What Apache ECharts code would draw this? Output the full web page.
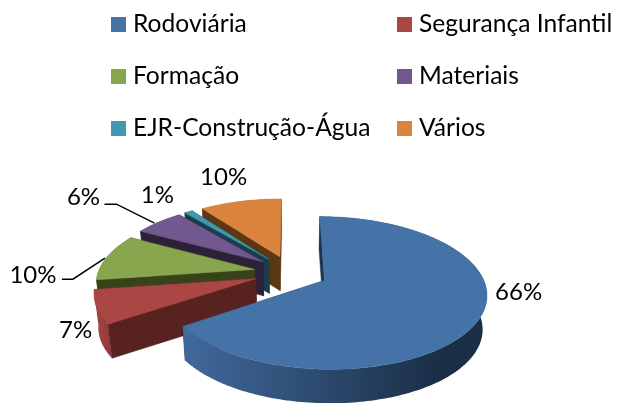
<!DOCTYPE html>
<html>
<head>
<meta charset="utf-8">
<style>html,body{margin:0;padding:0;background:#fff}#c{width:618px;height:403px}</style>
<script src="https://cdn.jsdelivr.net/npm/echarts@6/dist/echarts.min.js"></script>
</head>
<body>
<div id="c"></div>
<script>
var categories = ["Rodoviária","Segurança Infantil","Formação","Materiais","EJR-Construção-Água","Vários"];
var values = [65.5,7.2,10.3,6,1,10];
var colors = ["#4572A7","#AA4643","#89A54E","#71588F","#4198AF","#DB843D"];
var cutColors = ["#1C3350","#572220","#38431A","#2D2139","#1A3E49","#5B3713"];
var wallLeft = ["#41699C","#A84644","#89A54E","#71588F","#4198AF","#DB843D"];
var wallRight = ["#1A2E46","#8F3B39","#5B6E34","#4B3B60","#2B6575","#925828"];
var wallRange = [[185,440],[94,111],[90,110],[130,150],[175,190],[200,220]];
var labelOffset = [[39,-26],[-21,23],[-74,18],[-75,-25],[-31,-17],[-17,-24]];
var leaders = [null,null,[[-45,22],[-34,22],[-2,1]],[[-54,-18],[-42,-18],[-4,1]],null,null];

var CX=291, CY=272.4, RX=156.5, RY=71.7, PERSP=0.16, EXPLODE=0.2375, DEPTH=34, SHRINK=0.978;
var total = values.reduce(function(a,b){return a+b;},0);
var slices = [], acc = 0;
values.forEach(function(v,i){
  var a0 = acc/total*Math.PI*2; acc += v;
  var a1 = acc/total*Math.PI*2;
  slices.push({i:i,a0:a0,a1:a1,mid:(a0+a1)/2});
});
function top3(X,Y){
  var p = 1/(1+PERSP*Y);
  return [CX+RX*X*p, CY-RY*Y*p];
}
function base3(pt){
  return [CX+(pt[0]-CX)*SHRINK, pt[1]+DEPTH];
}
function ptOf(s,r,a){
  var X = EXPLODE*Math.sin(s.mid)+r*Math.sin(a);
  var Y = EXPLODE*Math.cos(s.mid)+r*Math.cos(a);
  return top3(X,Y);
}
function poly(points,fill,stroke){
  return {type:'polygon',shape:{points:points},style:{fill:fill,stroke:stroke||fill,lineWidth:0.5},silent:true};
}
function render(i){
  return function(){
    var s = slices[i], apex = ptOf(s,0,0), arc=[], n=Math.max(4,Math.ceil((s.a1-s.a0)/0.02));
    for(var k=0;k<=n;k++){ arc.push(ptOf(s,1,s.a0+(s.a1-s.a0)*k/n)); }
    var arcBase = arc.map(base3), apexBase = base3(apex);
    var kids = [];
    kids.push(poly([apex,arc[n],arcBase[n],apexBase],cutColors[i]));
    var grad = new echarts.graphic.LinearGradient(wallRange[i][0],0,wallRange[i][1],0,
      [{offset:0,color:wallLeft[i]},{offset:1,color:wallRight[i]}],true);
    kids.push(poly(arc.concat(arcBase.slice().reverse()),grad,'rgba(0,0,0,0)'));
    kids.push(poly([apex,arc[0],arcBase[0],apexBase],cutColors[i]));
    kids.push(poly([apex].concat(arc),colors[i]));
    var edge = ptOf(s,1,s.mid), off = labelOffset[i];
    if(leaders[i]){
      var pts = leaders[i].map(function(d){return [edge[0]+d[0],edge[1]+d[1]];});
      kids.push({type:'polyline',shape:{points:pts},style:{fill:null,stroke:'#000',lineWidth:1.5},silent:true});
    }
    kids.push({type:'text',silent:true,style:{
      x:edge[0]+off[0],y:edge[1]+off[1],text:Math.round(values[i]/total*100)+'%',
      fill:'#000',font:'24px Lato',align:'center',verticalAlign:'middle'}});
    return {type:'group',children:kids};
  };
}
var series = [];
for(var i=categories.length-1;i>=0;i--){
  series.push({type:'custom',name:categories[i],coordinateSystem:'none',silent:true,animation:false,
    itemStyle:{color:colors[i]},data:[[values[i]]],renderItem:render(i)});
}
function legendOf(names,left){
  return {show:true,orient:'vertical',left:left,top:12,itemWidth:15,itemHeight:15,itemGap:27,icon:'rect',
    padding:0,selectedMode:false,data:names,
    textStyle:{fontFamily:'Lato',fontSize:24.6,color:'#000',padding:[0,0,0,2]}};
}
var chart = echarts.init(document.getElementById('c'),null,{renderer:'canvas'});
chart.setOption({
  animation:false,backgroundColor:'#fff',
  legend:[legendOf([categories[0],categories[2],categories[4]],111),
          legendOf([categories[1],categories[3],categories[5]],397)],
  series:series
});
</script>
</body>
</html>
